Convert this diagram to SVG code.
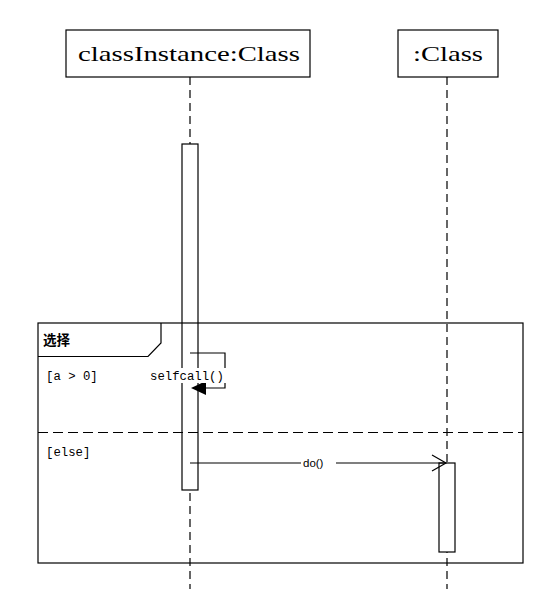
<svg xmlns="http://www.w3.org/2000/svg" width="541" height="589" viewBox="0 0 541 589">
<style>
.box{fill:#fff;stroke:#000;stroke-width:1.2}
.life{stroke:#000;stroke-width:1.2;stroke-dasharray:8,5;fill:none}
.act{fill:#fff;stroke:#000;stroke-width:1.2}
.head{font-family:"Liberation Serif",serif;font-size:21px;fill:#000}
.mono{font-family:"Liberation Mono",monospace;font-size:12.3px;fill:#000}
.msg{stroke:#000;stroke-width:1.2;fill:none}
</style>
<rect width="541" height="589" fill="#fff"/>
<g id="lifelines" class="connectors">
<line class="life" x1="190" y1="77" x2="190" y2="589"/>
<line class="life" x1="447" y1="77" x2="447" y2="589"/>
</g>
<g id="node-classInstance">
<rect class="box" x="66" y="30" width="244" height="47"/>
<text class="head" x="78" y="61" textLength="222" lengthAdjust="spacingAndGlyphs">classInstance:Class</text>
</g>
<g id="node-class">
<rect class="box" x="398" y="30" width="100" height="47"/>
<text class="head" x="413" y="61" textLength="70" lengthAdjust="spacingAndGlyphs">:Class</text>
</g>
<g id="activation-1">
<rect class="act" x="182" y="144" width="16" height="346"/>
</g>
<g id="activation-2">
<rect class="act" x="439" y="463" width="16" height="89"/>
</g>
<g id="fragment-alt">
<rect x="38" y="323" width="485" height="240" fill="none" stroke="#000" stroke-width="1.2"/>
<path d="M38,356.5 H148 L161,343 V323" fill="none" stroke="#000" stroke-width="1.2"/>
<text x="43" y="345" font-family="'Noto Sans CJK SC',sans-serif" font-size="13.5" font-weight="bold">选择</text>
<line x1="38" y1="432.5" x2="523" y2="432.5" stroke="#000" stroke-width="1.2" stroke-dasharray="10,5"/>
<text class="mono" x="46" y="380">[a &gt; 0]</text>
<text class="mono" x="46" y="456">[else]</text>
</g>
<g id="connectors">
<path class="msg" d="M190,353 H225 V388 H204"/>
<polygon points="191,388 206,381 206,395" fill="#000"/>
<rect x="150" y="368" width="76" height="15" fill="#fff"/>
<text class="mono" x="150" y="380">selfcall()</text>
<line class="msg" x1="190" y1="463" x2="446" y2="463"/>
<path class="msg" d="M432,455 L446,463 L432,471"/>
<rect x="301" y="455" width="35" height="15" fill="#fff"/>
<text x="303" y="467" font-family="'Liberation Sans',sans-serif" font-size="11.5">do()</text>
</g>
</svg>
